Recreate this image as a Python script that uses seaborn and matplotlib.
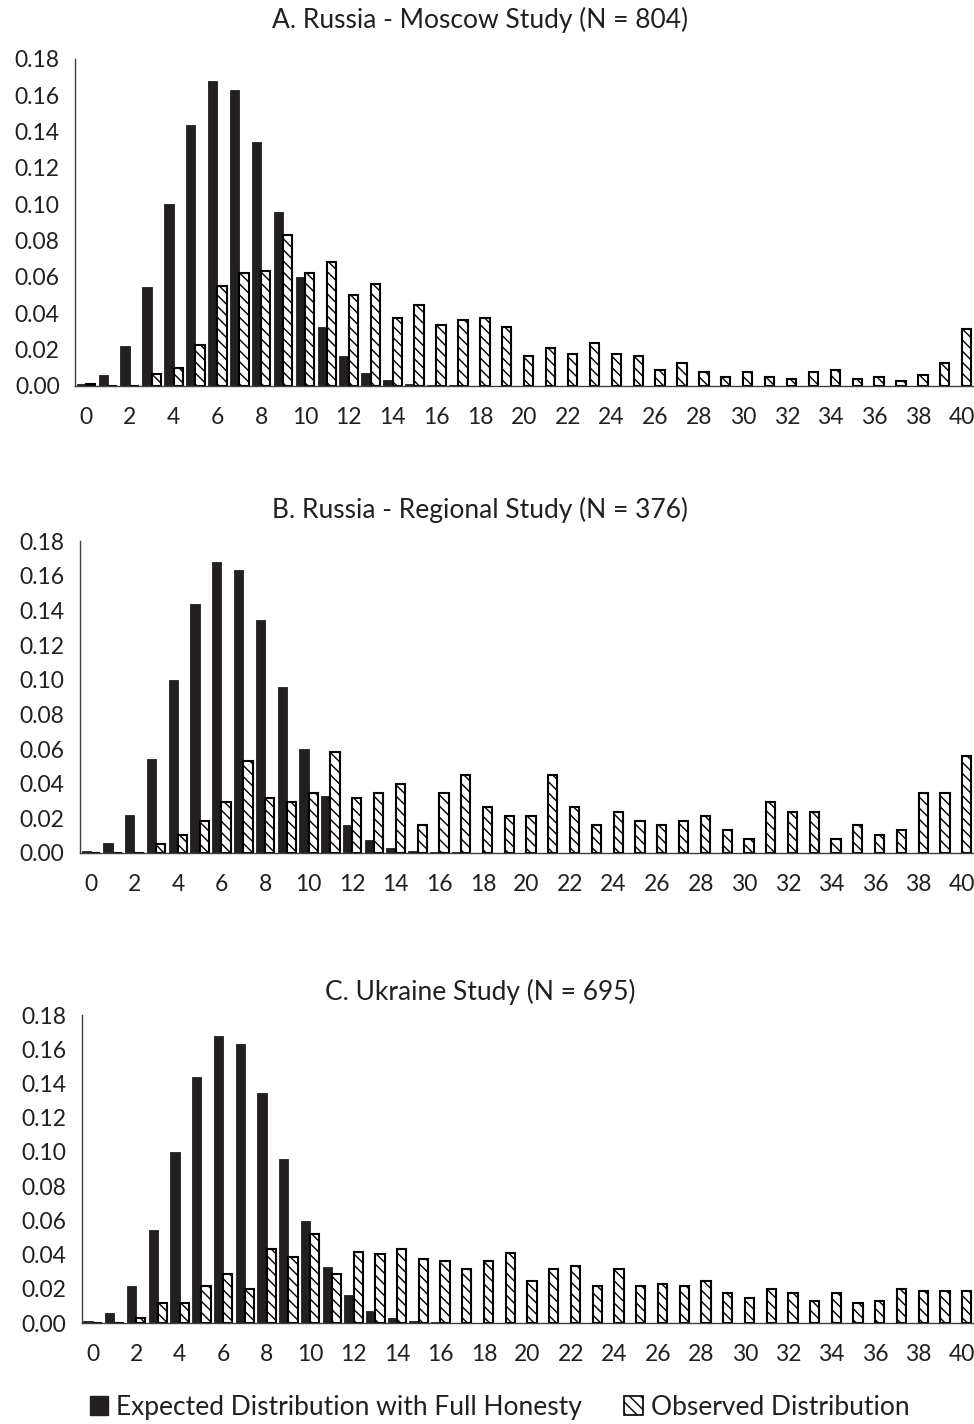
#!/usr/bin/env python3
import numpy as np
import pandas as pd
import seaborn as sns
import matplotlib
matplotlib.use("Agg")
import matplotlib.pyplot as plt
from matplotlib.patches import Patch
from matplotlib.ticker import FormatStrFormatter

# number of reported points 0..40
scores = list(range(41))

# expected distribution with full honesty (same in all three panels)
expected = [0.0010, 0.0060, 0.0218, 0.0545, 0.1000, 0.1437, 0.1677, 0.1631, 0.1345, 0.0960,
            0.0598, 0.0327, 0.0163, 0.0073, 0.0030, 0.0012, 0.0005, 0.0003, 0.0002, 0.0002,
            0.0002, 0.0002, 0.0002, 0.0002, 0.0002, 0.0002, 0.0002, 0.0002, 0.0002, 0.0002,
            0.0002, 0.0002, 0.0002, 0.0002, 0.0002, 0.0002, 0.0002, 0.0002, 0.0002, 0.0002,
            0.0002]

obs_moscow = [0.0012, 0.0, 0.0, 0.0065, 0.0100, 0.0224, 0.0550, 0.0622, 0.0634, 0.0833,
              0.0622, 0.0684, 0.0498, 0.0560, 0.0373, 0.0448, 0.0336, 0.0361, 0.0373, 0.0323,
              0.0162, 0.0211, 0.0174, 0.0236, 0.0174, 0.0162, 0.0087, 0.0124, 0.0075, 0.0050,
              0.0075, 0.0050, 0.0037, 0.0075, 0.0087, 0.0037, 0.0050, 0.0025, 0.0062, 0.0124,
              0.0311]

obs_regional = [0.0, 0.0, 0.0, 0.0053, 0.0106, 0.0186, 0.0293, 0.0532, 0.0319, 0.0293,
                0.0346, 0.0585, 0.0319, 0.0346, 0.0399, 0.0160, 0.0346, 0.0452, 0.0266, 0.0213,
                0.0213, 0.0452, 0.0266, 0.0160, 0.0239, 0.0186, 0.0160, 0.0186, 0.0213, 0.0133,
                0.0080, 0.0293, 0.0239, 0.0239, 0.0080, 0.0160, 0.0106, 0.0133, 0.0346, 0.0346,
                0.0559]

obs_ukraine = [0.0, 0.0, 0.0029, 0.0115, 0.0115, 0.0216, 0.0288, 0.0201, 0.0432, 0.0388,
               0.0518, 0.0288, 0.0417, 0.0403, 0.0432, 0.0374, 0.0360, 0.0317, 0.0360, 0.0412,
               0.0245, 0.0317, 0.0331, 0.0216, 0.0317, 0.0216, 0.0230, 0.0216, 0.0245, 0.0173,
               0.0144, 0.0201, 0.0173, 0.0130, 0.0173, 0.0115, 0.0130, 0.0201, 0.0187, 0.0187,
               0.0187]

titles = ["A. Russia - Moscow Study (N = 804)",
          "B. Russia - Regional Study (N = 376)",
          "C. Ukraine Study (N = 695)"]
series_names = ["Expected Distribution with Full Honesty", "Observed Distribution"]
yticks = [0.0, 0.02, 0.04, 0.06, 0.08, 0.10, 0.12, 0.14, 0.16, 0.18]
xtick_pos = list(range(0, 41, 2))
xtick_labels = [str(v) for v in xtick_pos]

dark = "#231f20"
hatch = "\\\\\\"

sns.set_style("white")
plt.rcParams['font.family'] = ['Lato', 'DejaVu Sans']
plt.rcParams['hatch.linewidth'] = 1.0
plt.rcParams['text.color'] = dark
plt.rcParams['xtick.color'] = dark
plt.rcParams['ytick.color'] = dark

fig = plt.figure(figsize=(9.74, 14.24), dpi=100)

axes_pos = [[0.077, 0.729, 0.922, 0.2296],
            [0.082, 0.401, 0.917, 0.219],
            [0.084, 0.0709, 0.915, 0.2163]]
title_y = [0.986, 0.642, 0.3034]

for pos, obs, title, ty in zip(axes_pos, [obs_moscow, obs_regional, obs_ukraine], titles, title_y):
    ax = fig.add_axes(pos)
    df = pd.DataFrame({"score": scores + scores,
                       "value": expected + obs,
                       "series": [series_names[0]] * len(scores) + [series_names[1]] * len(scores)})
    sns.barplot(data=df, x="score", y="value", hue="series", order=scores,
                hue_order=series_names, palette=[dark, "white"], saturation=1,
                width=0.85, errorbar=None, legend=False, ax=ax)
    for bar in ax.containers[0]:
        bar.set_edgecolor(dark)
        bar.set_linewidth(0.6)
    for bar in ax.containers[1]:
        bar.set_facecolor("white")
        bar.set_edgecolor("black")
        bar.set_hatch(hatch)
        bar.set_linewidth(1.5)

    ax.set_xlim(-0.5, 40.5)
    ax.set_ylim(0, 0.18)
    ax.set_yticks(yticks)
    ax.yaxis.set_major_formatter(FormatStrFormatter('%.2f'))
    ax.set_xticks(xtick_pos)
    ax.set_xticklabels(xtick_labels)
    ax.set_xticks(np.arange(-0.5, 41, 1), minor=True)
    ax.tick_params(axis='x', which='major', length=0, pad=15, labelsize=16.5)
    ax.tick_params(axis='x', which='minor', length=6, width=1, direction='out', color='#404040')
    ax.tick_params(axis='y', length=6, width=1, direction='out', pad=5, labelsize=16.5, color='#404040')
    ax.set_xlabel("")
    ax.set_ylabel("")
    sns.despine(ax=ax)
    for s in ["left", "bottom"]:
        ax.spines[s].set_color('#404040')
        ax.spines[s].set_linewidth(1)

    fig.text(0.493, ty, title, ha='center', va='center', fontsize=19)

handles = [Patch(facecolor=dark, edgecolor=dark, label=series_names[0]),
           Patch(facecolor="white", edgecolor="black", hatch=hatch, linewidth=1.2, label=series_names[1])]
fig.legend(handles=handles, loc='center', bbox_to_anchor=(0.513, 0.0118), ncol=2, frameon=False,
           fontsize=19, handlelength=0.7, handleheight=0.7, handletextpad=0.3, columnspacing=1.6)

fig.savefig("out.png", dpi=100)
